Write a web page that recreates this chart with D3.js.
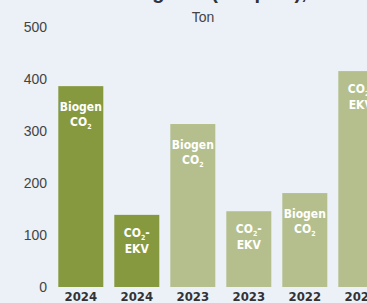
<!DOCTYPE html>
<html><head><meta charset="utf-8">
<script src="https://cdn.jsdelivr.net/npm/d3@7"></script>
<style>
html,body{margin:0;padding:0;background:#ecf0f7;overflow:hidden;}
svg{display:block;}
</style></head>
<body>
<svg id="c" width="367" height="303"></svg>
<script>
const years = ["2024","2024","2023","2023","2022","2022"];
const kinds = ["bio","ekv","bio","ekv","bio","ekv"];
const values = [387, 139, 314, 146, 181, 416];
const yTicks = [0,100,200,300,400,500];
const title = "Växthusgaser (Scope 1), ton";
const unit = "Ton";

const svg = d3.select("#c");
const W = 367, H = 303;
svg.append("rect").attr("width",W).attr("height",H).attr("fill","#ecf0f7");

const y = d3.scaleLinear().domain([0,500]).range([287,27.5]);
const idx = d3.range(values.length);
const x = d3.scaleBand().domain(idx).range([52.8, 52.8+336]).paddingInner(11/56).paddingOuter(11/112);

const colorFor = i => years[i]==="2024" ? "#87993f" : "#b5bf8d";
const cond = "DejaVu Sans Condensed, DejaVu Sans, Arial, sans-serif";

// title (mostly outside the viewport)
svg.append("text").attr("x",209).attr("y",-1).attr("text-anchor","middle")
  .attr("font-family","Liberation Sans, Arial, sans-serif").attr("font-weight","bold")
  .attr("font-size",20).attr("fill","#333").text(title);
svg.append("text").attr("x",203).attr("y",22).attr("text-anchor","middle")
  .attr("font-family","Liberation Sans, Arial, sans-serif").attr("font-size",14)
  .attr("fill","#444").text(unit);

// y axis labels
const ya = d3.axisLeft(y).tickValues(yTicks).tickSize(0).tickPadding(0);
const gy = svg.append("g").attr("transform","translate(47,0)").call(ya);
gy.select(".domain").remove();
gy.selectAll("text").attr("font-family","Liberation Sans, Arial, sans-serif")
  .attr("font-size",14).attr("fill","#444");

// bars
svg.append("g").selectAll("rect").data(idx).join("rect")
  .attr("x",i=>x(i)).attr("width",x.bandwidth())
  .attr("y",i=>y(values[i])).attr("height",i=>y(0)-y(values[i]))
  .attr("fill",colorFor);

// x labels
const xa = d3.axisBottom(x).tickSize(0).tickPadding(0).tickFormat(i=>years[i]);
const gx = svg.append("g").attr("transform","translate(0,292)").call(xa);
gx.select(".domain").remove();
gx.selectAll("text").attr("dy","0.71em").attr("font-family",cond)
  .attr("font-weight","bold").attr("font-size",13).attr("fill","#333");

// bar labels
const lbl = svg.append("g").attr("font-family",cond)
  .attr("font-weight","bold").attr("font-size",12).attr("fill","#fff").attr("text-anchor","middle");
idx.forEach(i=>{
  const cx = x(i)+x.bandwidth()/2, top = y(values[i]);
  if(kinds[i]==="bio"){
    lbl.append("text").attr("x",cx).attr("y",top+25).text("Biogen");
    const t = lbl.append("text").attr("x",cx).attr("y",top+40);
    t.append("tspan").text("CO");
    t.append("tspan").attr("font-size",7).attr("dy",3).text("2");
  } else {
    const t = lbl.append("text").attr("x",cx).attr("y",top+22);
    t.append("tspan").text("CO");
    t.append("tspan").attr("font-size",7).attr("dy",3).text("2");
    t.append("tspan").attr("dy",-3).text("-");
    lbl.append("text").attr("x",cx).attr("y",top+38).text("EKV");
  }
});
</script>
</body></html>
